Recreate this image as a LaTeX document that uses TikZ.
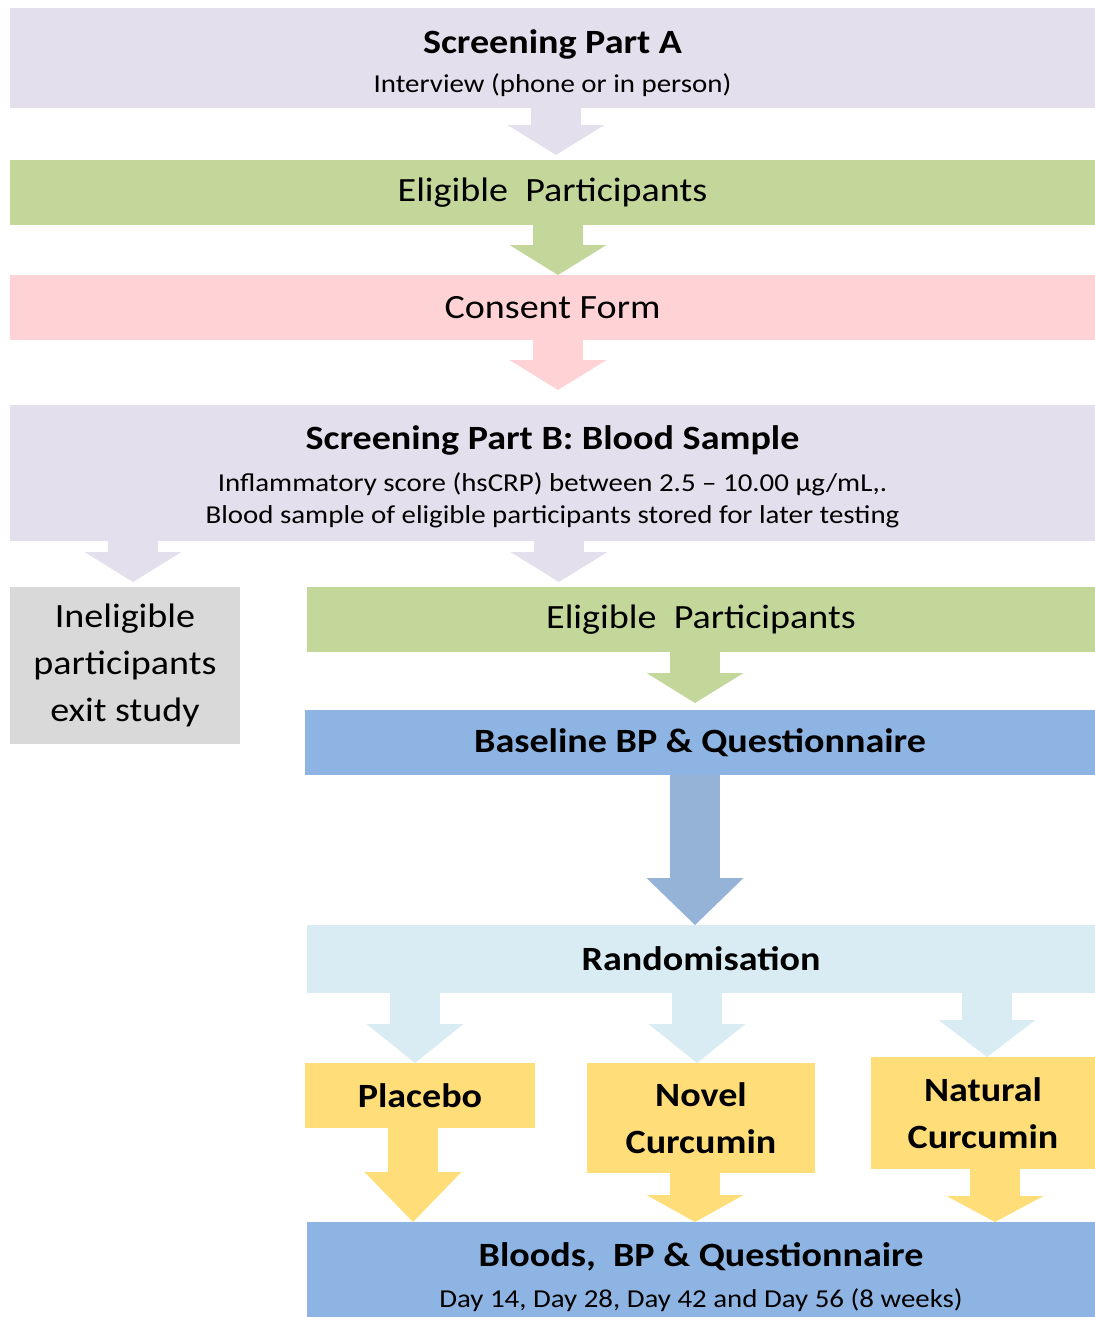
\documentclass[tikz,border=0pt]{standalone}
\usepackage{fontspec}
\setmainfont{Carlito}[FakeStretch=1.12]
\usetikzlibrary{arrows.meta}
\definecolor{flowlilac}{RGB}{228,223,236}
\definecolor{flowgreen}{RGB}{196,215,155}
\definecolor{flowpink}{RGB}{255,211,213}
\definecolor{flowgray}{RGB}{217,217,217}
\definecolor{flowblue}{RGB}{142,180,227}
\definecolor{flowsteel}{RGB}{149,179,215}
\definecolor{flowice}{RGB}{218,236,243}
\definecolor{flowyellow}{RGB}{255,222,122}

\begin{document}
\begin{tikzpicture}[x=0.5pt,y=-0.5pt,
  box/.style={inner sep=0pt,outer sep=0pt,align=center,font=\fontsize{17}{23.5}\selectfont},
  heading/.style={font=\bfseries\fontsize{17}{23.5}\selectfont},
  boxtext/.style={align=center,font=\fontsize{12.9}{16}\selectfont},
  flow/.style={line width=25pt,-{Triangle[width=48.5pt,length=#1,line width=0pt]}},
  flow/.default=15pt]
  \useasboundingbox (0,0) rectangle (1095,1317);
  % screening column
  \node[box,fill=flowlilac,minimum width=542.5pt,minimum height=50pt,
    label={[boxtext,yshift=-2.5pt]center:{{\bfseries\fontsize{17}{20}\selectfont Screening Part A}\\[3.5pt]Interview (phone or in person)}}] (scrA) at (552.5,58) {};
  \node[box,fill=flowgreen,minimum width=542.5pt,minimum height=32.5pt] (elig) at (552.5,192.5) {Eligible\ \ Participants};
  \node[box,fill=flowpink,minimum width=542.5pt,minimum height=32.5pt] (consent) at (552.5,307.5) {Consent Form};
  \node[box,fill=flowlilac,minimum width=542.5pt,minimum height=68pt,
    label={[boxtext,yshift=-2pt]center:{{\bfseries\fontsize{17}{20}\selectfont Screening Part B: Blood Sample}\\[5pt]
     Inflammatory score (hsCRP) between 2.5 – 10.00 µg/mL,.\\
     Blood sample of eligible participants stored for later testing}}] (scrB) at (552.5,473) {};
  % exit branch
  \node[box,fill=flowgray,minimum width=115pt,minimum height=78.5pt] (inelig) at (125,665.5) {Ineligible\\participants\\exit study};
  % trial arm
  \node[box,fill=flowgreen,minimum width=394pt,minimum height=32.5pt] (elig2) at (701,619.5) {Eligible\ \ Participants};
  \node[box,heading,fill=flowblue,minimum width=395pt,minimum height=32.5pt] (base) at (700,742.5) {Baseline BP \& Questionnaire};
  \node[box,heading,fill=flowice,minimum width=394pt,minimum height=34pt] (rand) at (701,959) {Randomisation};
  \node[box,heading,fill=flowyellow,minimum width=115pt,minimum height=32.5pt] (placebo) at (420,1095.5) {Placebo};
  \node[box,heading,fill=flowyellow,minimum width=114pt,minimum height=55pt] (novel) at (701,1118) {Novel\\Curcumin};
  \node[box,heading,fill=flowyellow,minimum width=112pt,minimum height=56pt] (natural) at (983,1113) {Natural\\Curcumin};
  \node[box,fill=flowblue,minimum width=394pt,minimum height=47.5pt,
    label={[boxtext,yshift=-4pt]center:{{\bfseries\fontsize{17}{20}\selectfont Bloods,\ \ BP \& Questionnaire}\\[4.5pt]Day 14, Day 28, Day 42 and Day 56 (8 weeks)}}] (bloods) at (701,1269.5) {};
  % block arrows
  \draw[flow,flowlilac,shorten >=2.5pt] (556,0 |- scrA.south) -- (556,0 |- elig.north);
  \draw[flow,flowgreen] (558,0 |- elig.south) -- (558,0 |- consent.north);
  \draw[flow,flowpink,shorten >=7.5pt] (558,0 |- consent.south) -- (558,0 |- scrB.north);
  \draw[flow,flowlilac,shorten >=2.5pt] (133,0 |- scrB.south) -- (133,0 |- inelig.north);
  \draw[flow,flowlilac,shorten >=2.5pt] (559,0 |- scrB.south) -- (559,0 |- elig2.north);
  \draw[flow,flowgreen,shorten >=3.5pt] (695,0 |- elig2.south) -- (695,0 |- base.north);
  \draw[flow=23.5pt,flowsteel] (695,0 |- base.south) -- (695,0 |- rand.north);
  \draw[flow=19.5pt,flowice] (415,0 |- rand.south) -- (415,0 |- placebo.north);
  \draw[flow=19.5pt,flowice] (697,0 |- rand.south) -- (697,0 |- novel.north);
  \draw[flow=18.5pt,flowice] (987,0 |- rand.south) -- (987,0 |- natural.north);
  \draw[flow=25pt,flowyellow] (413,0 |- placebo.south) -- (413,0 |- bloods.north);
  \draw[flow=13.5pt,flowyellow] (695,0 |- novel.south) -- (695,0 |- bloods.north);
  \draw[flow=13pt,flowyellow] (995,0 |- natural.south) -- (995,0 |- bloods.north);
\end{tikzpicture}
\end{document}
